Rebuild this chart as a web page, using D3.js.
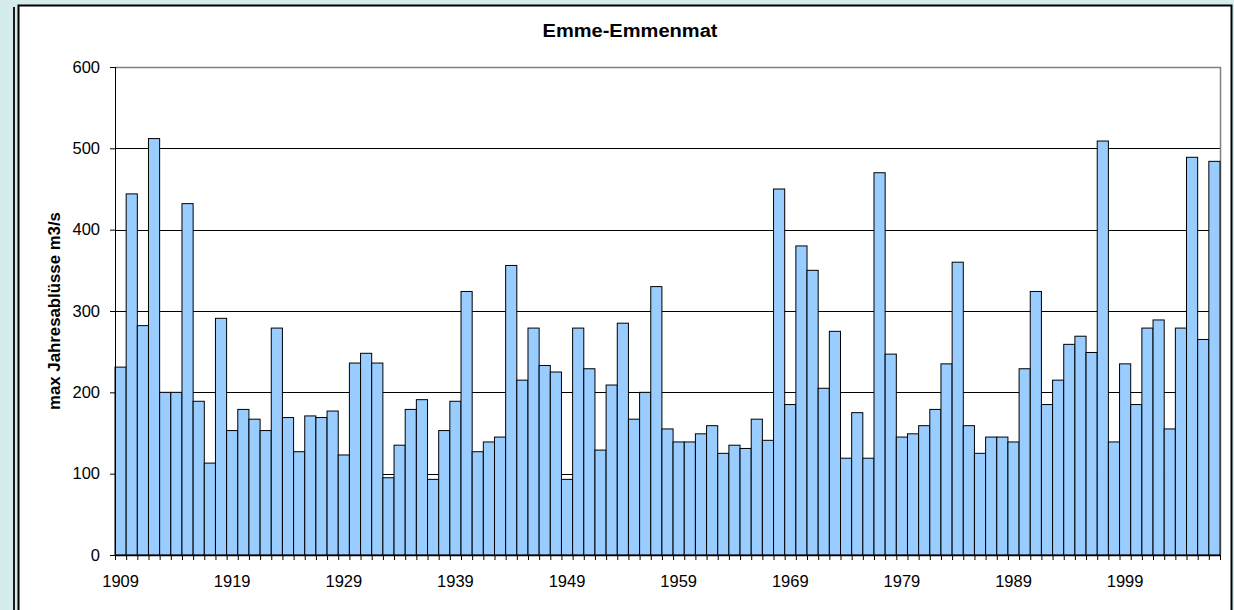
<!DOCTYPE html>
<html>
<head>
<meta charset="utf-8">
<script src="https://cdn.jsdelivr.net/npm/d3@7"></script>
<style>
  body { margin: 0; background: #d4ecec; }
  svg { display: block; }
  text { font-family: Arial, "Liberation Sans", sans-serif; }
</style>
</head>
<body>
<div class="container"></div>
<script>
/* globals d3 */
const years = d3.range(1909, 2008);
const peaks = [
  231, 444, 282, 512, 200, 200, 432, 189, 113, 291,
  153, 179, 167, 153, 279, 169, 127, 171, 169, 177,
  123, 236, 248, 236, 95, 135, 179, 191, 93, 153,
  189, 324, 127, 139, 145, 356, 215, 279, 233, 225,
  93, 279, 229, 129, 209, 285, 167, 200, 330, 155,
  139, 139, 149, 159, 125, 135, 131, 167, 141, 450,
  185, 380, 350, 205, 275, 119, 175, 119, 470, 247,
  145, 149, 159, 179, 235, 360, 159, 125, 145, 145,
  139, 229, 324, 185, 215, 259, 269, 249, 509, 139,
  235, 185, 279, 289, 155, 279, 489, 265, 484
];
const yTicks = [0, 100, 200, 300, 400, 500, 600];
const xLabels = [1909, 1919, 1929, 1939, 1949, 1959, 1969, 1979, 1989, 1999];
const title = "Emme-Emmenmat";
const yTitle = "max Jahresablüsse m3/s";

const w = 1234;
const h = 610;
const plotLeft = 115, plotRight = 1220, plotTop = 67, plotBottom = 555;
const font = "Arial, 'Liberation Sans', sans-serif";

const svg = d3.select(".container")
              .append("svg")
              .attr("width", w)
              .attr("height", h);

// frame of the chart sheet
svg.append("line")
   .attr("x1", 14).attr("x2", 14)
   .attr("y1", 7).attr("y2", h + 5)
   .attr("stroke", "#1a1a1a")
   .attr("stroke-width", 2);
svg.append("rect")
   .attr("x", 18.5).attr("y", 5.5)
   .attr("width", 1213).attr("height", h + 20)
   .attr("fill", "#fff")
   .attr("stroke", "#000")
   .attr("stroke-width", 2);

const xScale = d3.scaleBand()
                 .domain(years)
                 .range([plotLeft, plotRight])
                 .padding(0);
const edgeScale = d3.scaleLinear()
                    .domain([1909, 2008])
                    .range([plotLeft, plotRight]);
const yScale = d3.scaleLinear()
                 .domain([0, 600])
                 .range([plotBottom, plotTop]);

// gridlines
svg.append("g")
   .selectAll("line")
   .data(yTicks.filter((d) => d > 0 && d < 600))
   .enter()
   .append("line")
   .attr("x1", plotLeft).attr("x2", plotRight)
   .attr("y1", (d) => Math.round(yScale(d)) + 0.5)
   .attr("y2", (d) => Math.round(yScale(d)) + 0.5)
   .attr("stroke", "#000")
   .attr("stroke-width", 1);

// plot border top / right
svg.append("path")
   .attr("d", "M" + plotLeft + "," + (plotTop + 0.5) + "H" + (plotRight + 0.5) + "V" + plotBottom)
   .attr("fill", "none")
   .attr("stroke", "#808080")
   .attr("stroke-width", 1.5);

svg.selectAll("rect.bar")
   .data(years)
   .enter()
   .append("rect")
   .attr("class", "bar")
   .attr("x", (d) => xScale(d))
   .attr("y", (d, i) => yScale(peaks[i]))
   .attr("width", xScale.bandwidth())
   .attr("height", (d, i) => plotBottom - yScale(peaks[i]))
   .attr("fill", "#99ccff")
   .attr("stroke", "#000")
   .attr("stroke-width", 1);

// y axis
const yAxis = d3.axisLeft(yScale).tickValues(yTicks).tickSize(5).tickPadding(10);
const gy = svg.append("g")
              .attr("transform", "translate(" + plotLeft + ",0)")
              .call(yAxis);
gy.selectAll("text").attr("font-size", 16.5).attr("font-family", font).attr("fill", "#000");
gy.selectAll("line").attr("stroke", "#000");
gy.select(".domain").attr("stroke", "#000").attr("d", "M0.5," + plotTop + "V" + plotBottom);

// x axis: tick marks at bar edges
const xEdges = d3.axisBottom(edgeScale).tickValues(d3.range(1909, 2009)).tickSize(5).tickFormat("");
const gx = svg.append("g")
              .attr("transform", "translate(0," + plotBottom + ")")
              .call(xEdges);
gx.selectAll("line").attr("stroke", "#000");
gx.select(".domain").attr("stroke", "#000").attr("stroke-width", 1.5).attr("d", "M" + plotLeft + ",0.5H" + plotRight);

// x axis labels centred under bars
const xAxis = d3.axisBottom(xScale).tickValues(xLabels).tickSize(0).tickPadding(20);
const gl = svg.append("g")
              .attr("transform", "translate(0," + plotBottom + ")")
              .call(xAxis);
gl.select(".domain").remove();
gl.selectAll("text").attr("font-size", 16.5).attr("font-family", font).attr("fill", "#000");

svg.append("text")
   .attr("x", 630)
   .attr("y", 37)
   .attr("text-anchor", "middle")
   .attr("font-size", 17.5)
   .attr("font-weight", "bold")
   .attr("textLength", 175)
   .attr("lengthAdjust", "spacingAndGlyphs")
   .text(title);

svg.append("text")
   .attr("transform", "translate(60," + (plotTop + plotBottom) / 2 + ") rotate(-90)")
   .attr("text-anchor", "middle")
   .attr("font-size", 16.8)
   .attr("font-weight", "bold")
   .text(yTitle);
</script>
</body>
</html>
